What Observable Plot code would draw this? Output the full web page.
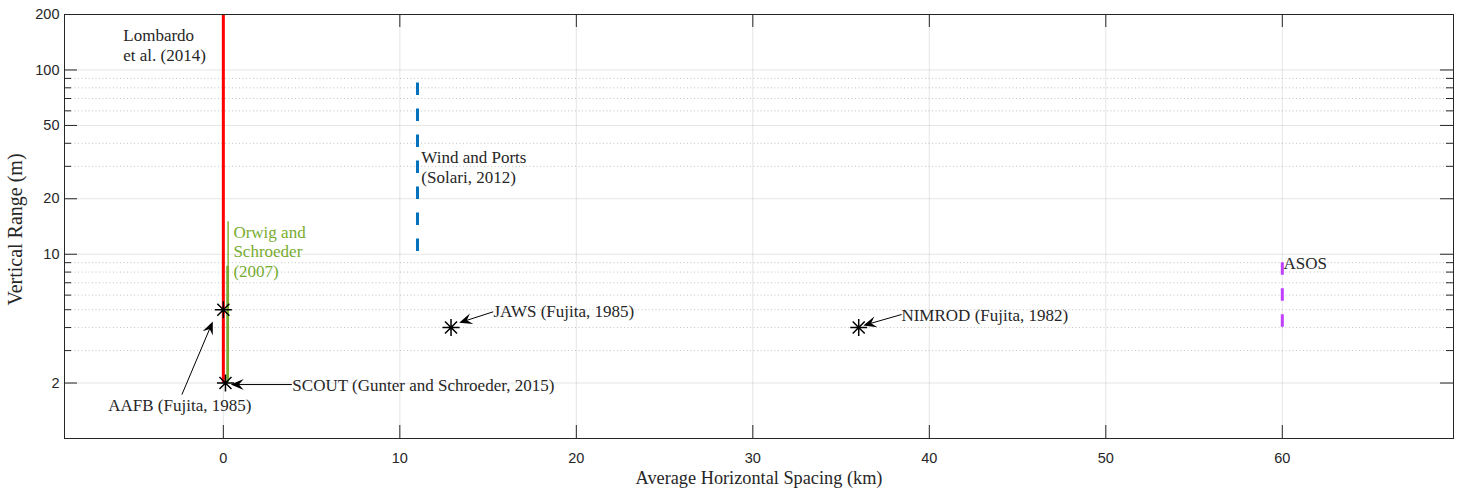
<!DOCTYPE html>
<html>
<head>
<meta charset="utf-8">
<script src="https://cdn.jsdelivr.net/npm/d3@7"></script>
<script src="https://cdn.jsdelivr.net/npm/@observablehq/plot@0.6"></script>
<style>
  html, body { margin: 0; padding: 0; background: #fff; }
  #chart svg { display: block; }
</style>
</head>
<body>
<div id="chart"></div>
<script>
// ---- data ----
const xTicks = [0, 10, 20, 30, 40, 50, 60];
const yMajorTicks = [2, 10, 20, 50, 100, 200];
const yMinorTicks = [3, 4, 5, 6, 7, 8, 9, 30, 40, 60, 70, 80, 90];

// vertical-range studies (x = spacing km, from/to = vertical range m)
const solidRanges = [
  {name: "Lombardo", x: 0, from: 2, to: 200, color: "#ff0000", width: 3},
  {name: "Orwig thin", x: 0.27, from: 2, to: 15, color: "#77AC30", width: 1.4},
  {name: "Orwig thick", x: 0.245, from: 2, to: 8.6, color: "#77AC30", width: 2.8}
];
const dashedRanges = [
  {name: "Wind and Ports", x: 11, from: 85, to: 10, color: "#0072BD", width: 3},
  {name: "ASOS", x: 60, from: 9, to: 4, color: "#C040FF", width: 3}
];

// single-height studies
const pointNames = ["AAFB", "SCOUT", "JAWS", "NIMROD"];
const pointX = [0, 0.12, 12.9, 36];
const pointY = [5, 2, 4, 4];
const points = pointNames.map((n, i) => ({name: n, x: pointX[i], y: pointY[i]}));

// labels
const labels = [
  {text: "Lombardo\net al. (2014)", x: -5.67, y: 137, color: "#262626"},
  {text: "Orwig and\nSchroeder\n(2007)", x: 0.57, y: 10.4, color: "#77AC30"},
  {text: "Wind and Ports\n(Solari, 2012)", x: 11.22, y: 29.9, color: "#262626"},
  {text: "ASOS", x: 60.07, y: 8.98, color: "#262626"},
  {text: "AAFB (Fujita, 1985)", x: -6.52, y: 1.52, color: "#262626"},
  {text: "SCOUT (Gunter and Schroeder, 2015)", x: 3.91, y: 1.95, color: "#262626"},
  {text: "JAWS (Fujita, 1985)", x: 15.3, y: 4.92, color: "#262626"},
  {text: "NIMROD (Fujita, 1982)", x: 38.42, y: 4.69, color: "#262626"}
];

// annotation arrows (tail -> tip)
const arrowData = [
  {x1: -2.32, y1: 1.72, x2: -0.57, y2: 4.29},
  {x1: 3.91, y1: 1.95, x2: 0.45, y2: 1.95},
  {x1: 15.32, y1: 4.84, x2: 13.39, y2: 4.22},
  {x1: 38.46, y1: 4.68, x2: 36.29, y2: 4.08}
];

// ---- layout ----
const W = 1460, H = 489;
const mL = 64, mR = 7, mT = 14, mB = 51;
const pw = W - mL - mR, ph = H - mT - mB;
const axisColor = "#262626";
const serif = "'Liberation Serif', 'Times New Roman', serif";
const sans = "'Liberation Sans', Arial, sans-serif";

// 8-spoke asterisk (MATLAB '*')
const star8 = {
  draw(context, size) {
    const r = Math.sqrt(size / Math.PI);
    const d = r * Math.SQRT1_2;
    context.moveTo(-r, 0); context.lineTo(r, 0);
    context.moveTo(0, -r); context.lineTo(0, r);
    context.moveTo(-d, -d); context.lineTo(d, d);
    context.moveTo(-d, d); context.lineTo(d, -d);
  }
};

// arrows with filled "vback2" heads
function arrowMark(data) {
  return (index, scales, values, dimensions, context) => {
    const sx = typeof scales.x === "function" ? scales.x : scales.scales.x.apply;
    const sy = typeof scales.y === "function" ? scales.y : scales.scales.y.apply;
    const g = d3.create("svg:g");
    const L = 13, hw = 5.5, notch = 0.62;
    for (const a of data) {
      const X1 = sx(a.x1), Y1 = sy(a.y1), X2 = sx(a.x2), Y2 = sy(a.y2);
      const ang = Math.atan2(Y2 - Y1, X2 - X1);
      const c = Math.cos(ang), s = Math.sin(ang);
      const bx = X2 - c * L * notch, by = Y2 - s * L * notch;
      g.append("line")
        .attr("x1", X1).attr("y1", Y1).attr("x2", bx).attr("y2", by)
        .attr("stroke", "#000").attr("stroke-width", 1);
      const pX = (u, v) => X2 + c * u - s * v;
      const pY = (u, v) => Y2 + s * u + c * v;
      g.append("path")
        .attr("d", `M${X2},${Y2}L${pX(-L, hw)},${pY(-L, hw)}L${bx},${by}L${pX(-L, -hw)},${pY(-L, -hw)}Z`)
        .attr("fill", "#000");
    }
    return g.node();
  };
}

const chart = Plot.plot({
  width: W,
  height: H,
  marginLeft: mL,
  marginRight: mR,
  marginTop: mT,
  marginBottom: mB,
  style: {fontFamily: sans, background: "#fff", color: axisColor},
  x: {domain: [-9, 69.7], axis: null},
  y: {type: "log", domain: [1, 200], axis: null},
  marks: [
    // grid
    Plot.ruleY(yMinorTicks, {stroke: axisColor, strokeOpacity: 0.28, strokeDasharray: "1,2.5"}),
    Plot.ruleY(yMajorTicks, {stroke: axisColor, strokeOpacity: 0.12}),
    Plot.ruleX(xTicks, {stroke: axisColor, strokeOpacity: 0.12}),
    // ticks (inside)
    Plot.ruleY(yMajorTicks, {insetRight: pw - 13, stroke: axisColor}),
    Plot.ruleY(yMinorTicks, {insetRight: pw - 7, stroke: axisColor}),
    Plot.ruleY(yMajorTicks, {insetLeft: pw - 13, stroke: axisColor}),
    Plot.ruleY(yMinorTicks, {insetLeft: pw - 7, stroke: axisColor}),
    Plot.ruleX(xTicks, {insetTop: ph - 13, stroke: axisColor}),
    Plot.ruleX(xTicks, {insetBottom: ph - 13, stroke: axisColor}),
    // tick labels
    Plot.axisX({ticks: xTicks, tickSize: 0, tickPadding: 14, fontSize: 14.5, label: null, tickFormat: d => String(d)}),
    Plot.axisY({ticks: yMajorTicks, tickSize: 0, tickPadding: 5, fontSize: 14.5, label: null, tickFormat: d => String(d)}),
    // axis titles
    Plot.text(["Average Horizontal Spacing (km)"], {frameAnchor: "bottom", dy: 40, lineAnchor: "middle", fontFamily: serif, fontSize: 18.3, fill: axisColor}),
    Plot.text(["Vertical Range (m)"], {frameAnchor: "left", dx: -49, dy: 3, rotate: -90, lineAnchor: "middle", textAnchor: "middle", fontFamily: serif, fontSize: 20, fill: axisColor}),
    // ranges
    Plot.ruleX(solidRanges, {x: "x", y1: "from", y2: "to", stroke: "color", strokeWidth: "width"}),
    ...dashedRanges.map(d => Plot.ruleX([d], {x: "x", y1: "from", y2: "to", stroke: d.color, strokeWidth: d.width, strokeDasharray: "12.5,13.5"})),
    // point studies
    Plot.dot(points, {x: "x", y: "y", symbol: star8, r: 8.5, stroke: "#000", strokeWidth: 1.5, fill: "none"}),
    // arrows
    arrowMark(arrowData),
    // labels
    Plot.text(labels, {x: "x", y: "y", text: "text", fill: "color", textAnchor: "start", lineAnchor: "middle", lineHeight: 1.15, fontFamily: serif, fontSize: 17}),
    Plot.frame({stroke: axisColor})
  ]
});
chart.querySelectorAll("[aria-label^='x-axis tick label'] text, [aria-label^='y-axis tick label'] text").forEach(t => t.setAttribute("fill", axisColor));
document.getElementById("chart").appendChild(chart);
</script>
</body>
</html>
